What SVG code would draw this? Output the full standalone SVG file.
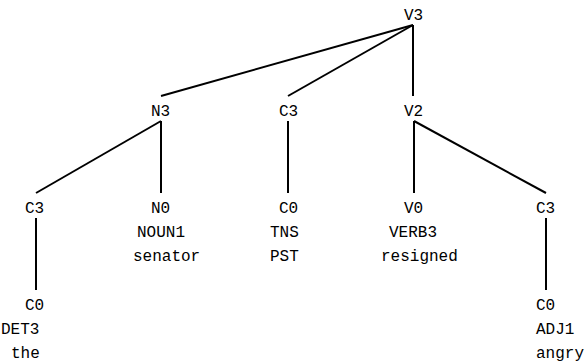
<svg xmlns="http://www.w3.org/2000/svg" width="587" height="364" viewBox="0 0 587 364">
<style>
text{font-family:"Liberation Mono","Courier New",monospace;font-size:16px;fill:#000}
line{stroke:#000;stroke-width:2;stroke-linecap:butt}
</style>
<rect width="587" height="364" fill="#fff"/>
<g id="edges">
<line x1="413" y1="25" x2="161" y2="96"/>
<line x1="413" y1="25" x2="288" y2="96"/>
<line x1="413" y1="25" x2="413" y2="96"/>
<line x1="161" y1="121" x2="36" y2="193"/>
<line x1="161" y1="121" x2="161" y2="193"/>
<line x1="288" y1="121" x2="288" y2="193"/>
<line x1="414" y1="121" x2="414" y2="193"/>
<line x1="414" y1="121" x2="546" y2="193"/>
<line x1="36" y1="218" x2="36" y2="290"/>
<line x1="546" y1="218" x2="546" y2="290"/>
</g>
<g id="V3"><text x="404" y="20">V3</text></g>
<g id="N3"><text x="151" y="116">N3</text></g>
<g id="C3a"><text x="279" y="116">C3</text></g>
<g id="V2"><text x="404" y="116">V2</text></g>
<g id="C3b"><text x="25" y="213">C3</text></g>
<g id="N0"><text x="151" y="213">N0</text><text x="137" y="237">NOUN1</text><text x="133" y="261">senator</text></g>
<g id="C0a"><text x="279" y="213">C0</text><text x="270" y="237">TNS</text><text x="270" y="261">PST</text></g>
<g id="V0"><text x="404" y="213">V0</text><text x="389" y="237">VERB3</text><text x="381" y="261">resigned</text></g>
<g id="C3c"><text x="536" y="213">C3</text></g>
<g id="C0b"><text x="25" y="310">C0</text><text x="1" y="334">DET3</text><text x="11" y="358">the</text></g>
<g id="C0c"><text x="536" y="310">C0</text><text x="536" y="334">ADJ1</text><text x="536" y="358">angry</text></g>
</svg>
